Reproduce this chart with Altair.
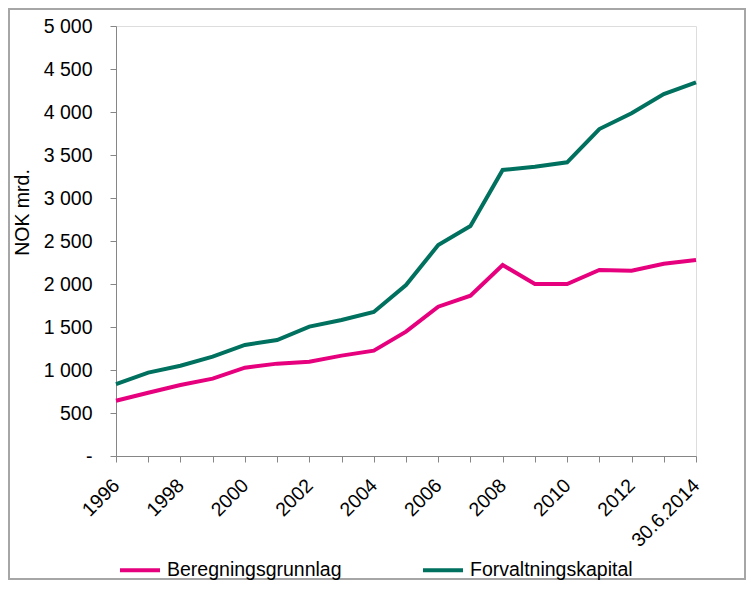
import altair as alt
import pandas as pd

categories = ["1996", "1997", "1998", "1999", "2000", "2001", "2002", "2003", "2004",
              "2005", "2006", "2007", "2008", "2009", "2010", "2011", "2012", "2013",
              "30.6.2014"]
beregning = [643, 736, 826, 899, 1027, 1074, 1097, 1167, 1225, 1446, 1736, 1864,
             2221, 2000, 2000, 2163, 2155, 2236, 2279]
forvaltning = [837, 969, 1050, 1155, 1291, 1349, 1504, 1581, 1674, 1988, 2453, 2674,
               3326, 3364, 3415, 3802, 3985, 4209, 4345]
series_names = ["Beregningsgrunnlag", "Forvaltningskapital"]
series_colors = ["#E6007E", "#00705F"]
y_ticks = list(range(0, 5001, 500))
shown_labels = categories[::2]

rows = []
for i, c in enumerate(categories):
    rows.append({"kat": c, "serie": series_names[0], "verdi": beregning[i]})
    rows.append({"kat": c, "serie": series_names[1], "verdi": forvaltning[i]})
df = pd.DataFrame(rows)

FONT = "Liberation Sans"
FS = 19.5
W, H = 580, 430
PAD = {"left": 108, "top": 18, "right": 50, "bottom": 124}

label_list = "[" + ",".join("'" + s + "'" for s in shown_labels) + "]"

lines = alt.Chart(df).mark_line(strokeWidth=4, clip=False).encode(
    x=alt.X("kat:O", sort=categories,
            scale=alt.Scale(type="point", padding=0),
            axis=alt.Axis(title=None, labelAngle=-45, labelAlign="right",
                          labelBaseline="middle", labelFontSize=FS, labelFont=FONT,
                          labelColor="black", labelPadding=20, tickSize=6,
                          tickColor="#868686", domainColor="#868686",
                          labelOverlap=False, labelFlush=False,
                          labelExpr="indexof(" + label_list + ", datum.value) >= 0 ? datum.label : ''")),
    y=alt.Y("verdi:Q", scale=alt.Scale(domain=[0, 5000], nice=False),
            axis=alt.Axis(title="NOK mrd.", values=y_ticks, grid=False,
                          labelExpr="datum.value == 0 ? '-' : replace(format(datum.value, ','), ',', ' ')",
                          labelFontSize=FS, labelFont=FONT, labelColor="black",
                          labelPadding=18, tickSize=6, tickColor="#868686",
                          domainColor="#868686", titleFont=FONT, titleFontSize=FS,
                          titleFontWeight="normal", titleColor="black",
                          titleX=-84, titleY=186, titleAngle=-90,
                          titleAlign="center", titleBaseline="bottom")),
    color=alt.Color("serie:N", scale=alt.Scale(domain=series_names, range=series_colors),
                    legend=alt.Legend(title=None, orient="none", legendX=2, legendY=522,
                                      direction="horizontal", columns=2,
                                      symbolType="stroke", symbolSize=1600,
                                      symbolStrokeWidth=4, labelFontSize=FS,
                                      labelFont=FONT, labelColor="black",
                                      labelOffset=5, columnPadding=73, padding=0,
                                      labelLimit=400)),
)

frame = alt.Chart(pd.DataFrame({"f": [0]})).mark_rect(
    fill=None, stroke="#A6A6A6", strokeWidth=2, clip=False
).encode(
    x=alt.value(-PAD["left"] + 1), x2=alt.value(W + PAD["right"] - 1),
    y=alt.value(-PAD["top"] + 1), y2=alt.value(H + PAD["bottom"] - 1),
)

chart = alt.layer(frame, lines).properties(
    width=W, height=H, autosize=alt.AutoSizeParams(type="none"), padding=PAD,
).configure_view(stroke=None).configure(font=FONT)

chart.save("out.html", embed_options={"renderer": "svg", "actions": False})
